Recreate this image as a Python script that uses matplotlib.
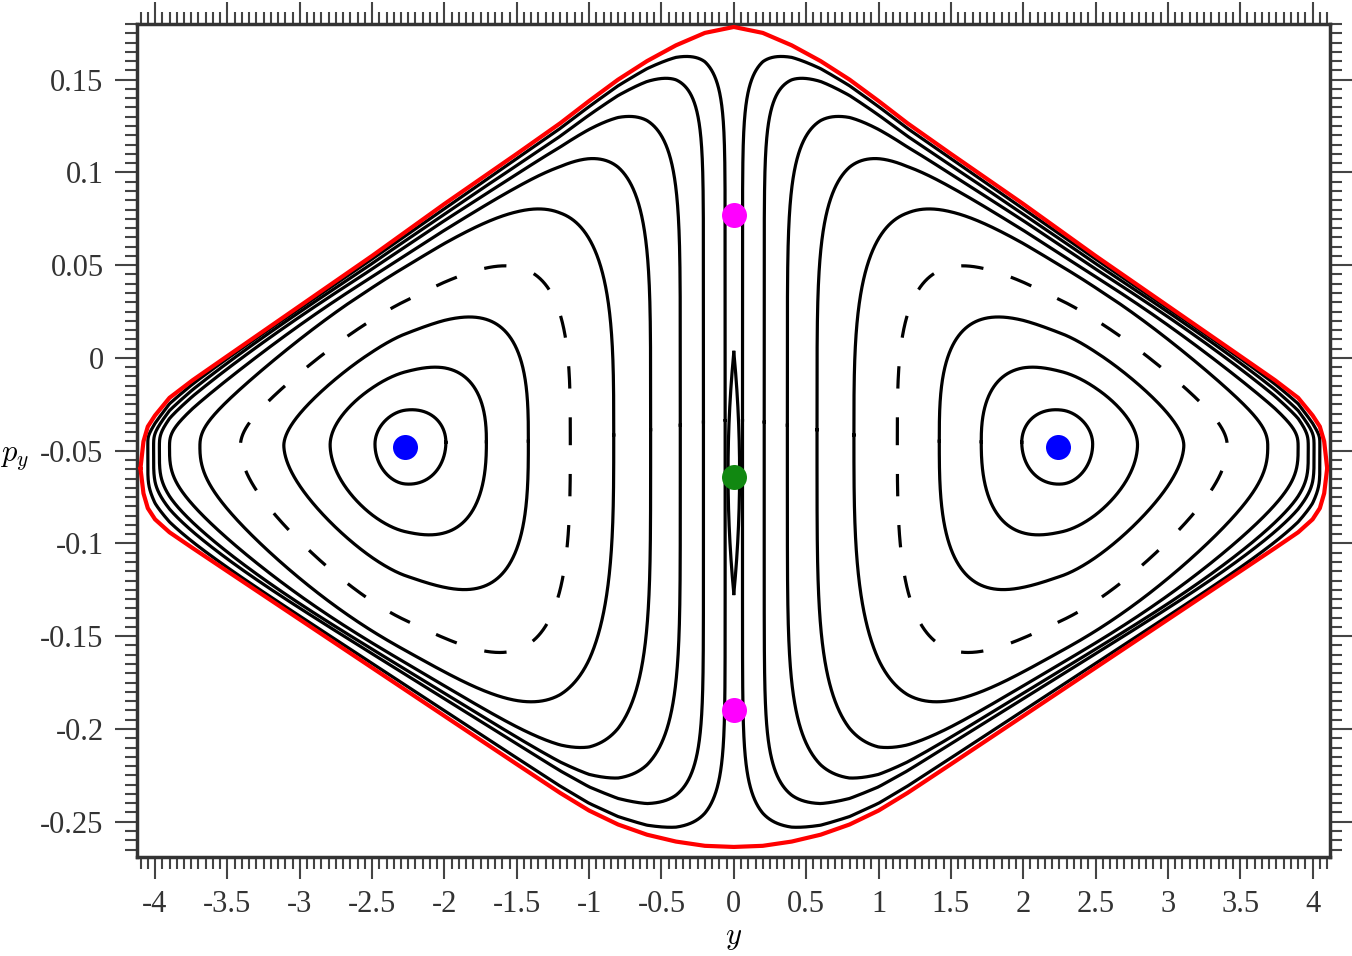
import matplotlib
matplotlib.use("Agg")
import matplotlib.pyplot as plt
import numpy as np
from matplotlib.ticker import MultipleLocator, FuncFormatter

# red boundary, left half (mirrored for the right half)
red_y = [-4.10, -4.08, -4.05, -4.0, -3.9, -3.74, -3.5, -3.0, -2.5, -2.0, -1.5, -1.2,
         -1.0, -0.8, -0.6, -0.4, -0.2, 0.0]
red_top = [-0.059, -0.045, -0.037, -0.031, -0.0215, -0.012, 0.001, 0.028, 0.055, 0.083,
           0.110, 0.1265, 0.1385, 0.1500, 0.1600, 0.1685, 0.1752, 0.1784]
red_bot = [-0.060, -0.073, -0.081, -0.087, -0.094, -0.1025, -0.115, -0.141, -0.167, -0.193,
           -0.219, -0.2345, -0.244, -0.2515, -0.2570, -0.2607, -0.2630, -0.2636]

# invariant curves of the left island (right island is the mirror image)
# extents: left/right y, top (y, p), bottom (y, p)
curve_L = [-2.48, -2.79, -3.11, -3.41, -3.69, -3.90, -3.97, -4.01, -4.05]
curve_R = [-1.99, -1.71, -1.42, -1.13, -0.83, -0.575, -0.37, -0.21, -0.06]
curve_yT = [-2.25, -2.05, -1.91, -1.71, -1.29, -1.04, -0.79, -0.60, -0.40]
curve_T = [-0.028, -0.005, 0.0216, 0.0485, 0.080, 0.107, 0.130, 0.149, 0.162]
curve_yB = [-2.26, -2.25, -2.13, -2.03, -1.69, -1.34, -0.90, -0.63, -0.44]
curve_B = [-0.068, -0.094, -0.121, -0.150, -0.181, -0.207, -0.226, -0.240, -0.253]
curve_dashed = [False, False, False, True, False, False, False, False, False]
# how close each curve comes to the red boundary (fraction of the half height)
curve_cap = [1.0, 1.0, 1.0, 1.0, 0.84, 0.89, 0.93, 0.96, 0.985]
# squareness of each curve (left half, right half)
shape_left = [2.0, 1.9, 1.8, 2.0, 2.4, 3.0, 4.0, 5.0, 7.0]
shape_right = [2.0, 2.4, 2.9, 3.2, 3.2, 4.5, 6.0, 9.5, 11.0]

island_y = -2.27
center_shift = 0.0095

# small island around the green point on y = 0
lens_top, lens_bot, lens_w = 0.003, -0.127, 0.04

# fixed points
blue_y, blue_p = [-2.27, 2.24], [-0.048, -0.048]
green_y, green_p = [0.0], [-0.064]
magenta_y, magenta_p = [0.0, 0.0], [0.077, -0.19]


def top_at(y):
    return np.interp(-np.abs(y), red_y, red_top)


def bot_at(y):
    return np.interp(-np.abs(y), red_y, red_bot)


def mid_at(y):
    return 0.5 * (top_at(y) + bot_at(y)) + center_shift


def island_curve(i, n=2000):
    yc = island_y
    ytip = red_y[0]
    aL, aR = shape_left[i], shape_right[i]
    cR = (curve_R[i] - yc) / (0 - yc)
    cL = (yc - curve_L[i]) / (yc - ytip)

    # scale v so that the curve passes through the read top / bottom point
    def v_scale(yx, frac):
        ux = (yx - yc) / (-yc) if yx >= yc else (yx - yc) / (yc - ytip)
        cu, a = (cR, aR) if ux >= 0 else (cL, aL)
        return min(frac / (1 - abs(ux / cu) ** a) ** (1 / a), curve_cap[i])

    yT, yB = curve_yT[i], curve_yB[i]
    cT = v_scale(yT, (curve_T[i] - mid_at(yT)) / (top_at(yT) - mid_at(yT)))
    cB = v_scale(yB, (mid_at(yB) - curve_B[i]) / (mid_at(yB) - bot_at(yB)))
    t = np.linspace(0, 2 * np.pi, n)
    c, s = np.cos(t), np.sin(t)
    a = np.where(c >= 0, aR, aL)
    u = np.sign(c) * np.abs(c) ** (2 / a) * np.where(c >= 0, cR, cL)
    v = np.sign(s) * np.abs(s) ** (2 / a) * np.where(s >= 0, cT, cB)
    y = np.where(u >= 0, yc - u * yc, yc + u * (yc - ytip))
    pm = mid_at(y)
    p = np.where(v >= 0, pm + v * (top_at(y) - pm), pm + v * (pm - bot_at(y)))
    return y, p


plt.rcParams['axes.unicode_minus'] = False
plt.rcParams['mathtext.fontset'] = 'cm'

fig = plt.figure(figsize=(13.52, 9.56), dpi=100)
ax = fig.add_axes([0.1013, 0.1036, 0.8824, 0.8713])

for i in range(len(curve_L)):
    y, p = island_curve(i)
    ls = (0, (7, 9)) if curve_dashed[i] else '-'
    for sgn in (1, -1):
        ax.plot(sgn * y, p, color='black', lw=2.3, ls=ls, zorder=2)

# central lens
pp = np.linspace(lens_bot, lens_top, 200)
half = 0.5 * (lens_top - lens_bot)
ww = lens_w * (1 - ((pp - 0.5 * (lens_top + lens_bot)) / half) ** 2)
ax.plot(ww, pp, color='black', lw=2.3, zorder=2)
ax.plot(-ww, pp, color='black', lw=2.3, zorder=2)

# red boundary
ry = np.array(red_y)
bx = np.concatenate([ry, -ry[::-1], -ry, ry[::-1]])
by = np.concatenate([red_top, red_top[::-1], red_bot, red_bot[::-1]])
ax.plot(bx, by, color='#ff0000', lw=3.0, zorder=3, solid_joinstyle='round')

ax.plot(blue_y, blue_p, 'o', color='#0000ff', ms=18, mec='none', zorder=5)
ax.plot(green_y, green_p, 'o', color='#118811', ms=18, mec='none', zorder=5)
ax.plot(magenta_y, magenta_p, 'o', color='#ff00ff', ms=18, mec='none', zorder=5)

ax.set_xlim(-4.125, 4.12)
ax.set_ylim(-0.269, 0.180)

ax.xaxis.set_major_locator(MultipleLocator(0.5))
ax.xaxis.set_minor_locator(MultipleLocator(0.05))
ax.yaxis.set_major_locator(MultipleLocator(0.05))
ax.yaxis.set_minor_locator(MultipleLocator(0.005))


def fmt(v, pos):
    v = round(v, 3)
    if v == 0:
        return '0'
    return '%g' % v


ax.xaxis.set_major_formatter(FuncFormatter(fmt))
ax.yaxis.set_major_formatter(FuncFormatter(fmt))
ax.tick_params(which='both', direction='out', top=True, right=True,
               color='#444444', width=1.5)
ax.tick_params(which='major', length=16, pad=8, labelsize=22,
               labelcolor='#333333')
ax.tick_params(which='minor', length=8.5)
for lab in ax.get_xticklabels() + ax.get_yticklabels():
    lab.set_family('Liberation Serif')
for sp in ax.spines.values():
    sp.set_linewidth(2.5)
    sp.set_color('#333333')

ax.set_xlabel('$y$', fontsize=22, va='center')
ax.set_ylabel('$p_y$', fontsize=22, rotation=0, va='center', ha='center')
ax.xaxis.set_label_coords(0.4999, -0.097)
ax.yaxis.set_label_coords(-0.103, 0.48)

fig.savefig('out.png', dpi=100)
